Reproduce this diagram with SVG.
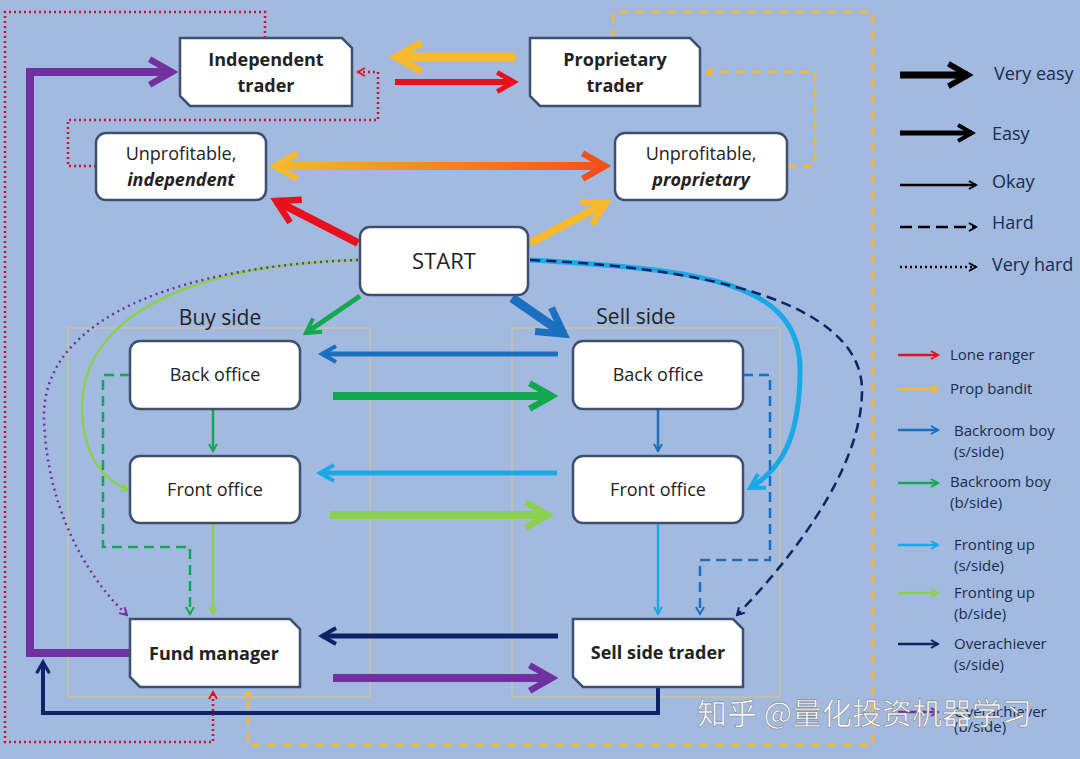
<svg xmlns="http://www.w3.org/2000/svg" width="1080" height="759" viewBox="0 0 1080 759">
<style>
.n{fill:#fff;stroke:#3f4f6f;stroke-width:2.5}
.t{font-family:"Open Sans","Liberation Sans",sans-serif;font-size:18px;fill:#222;text-anchor:middle}
.b{font-weight:bold;font-size:18px}
.l{font-family:"Open Sans","Liberation Sans",sans-serif;font-size:15px;fill:#1a2a50}
.c{fill:none;stroke-linecap:butt}
.grp{fill:none;stroke:#c0bfb0;stroke-width:2}
</style>
<defs>
<linearGradient id="gr" gradientUnits="userSpaceOnUse" x1="270" y1="0" x2="610" y2="0"><stop offset="0" stop-color="#f7b92d"/><stop offset="1" stop-color="#f24f1c"/></linearGradient>
<marker id="mR" viewBox="0 0 10 10" refX="8" refY="5" markerWidth="4" markerHeight="4" orient="auto-start-reverse"><path d="M1,1 L8,5 L1,9" fill="none" stroke="#e8101c" stroke-width="2"/></marker>
<marker id="mY" viewBox="0 0 10 10" refX="8" refY="5" markerWidth="4" markerHeight="4" orient="auto-start-reverse"><path d="M1,1 L8,5 L1,9" fill="none" stroke="#f7b92d" stroke-width="2"/></marker>
<marker id="mO" viewBox="0 0 10 10" refX="8" refY="5" markerWidth="4" markerHeight="4" orient="auto-start-reverse"><path d="M1,1 L8,5 L1,9" fill="none" stroke="#f24f1c" stroke-width="2"/></marker>
<marker id="mB" viewBox="0 0 10 10" refX="8" refY="5" markerWidth="4" markerHeight="4" orient="auto-start-reverse"><path d="M1,1 L8,5 L1,9" fill="none" stroke="#1a6fc0" stroke-width="2"/></marker>
<marker id="mG" viewBox="0 0 10 10" refX="8" refY="5" markerWidth="4" markerHeight="4" orient="auto-start-reverse"><path d="M1,1 L8,5 L1,9" fill="none" stroke="#12a84d" stroke-width="2"/></marker>
<marker id="mLB" viewBox="0 0 10 10" refX="8" refY="5" markerWidth="4" markerHeight="4" orient="auto-start-reverse"><path d="M1,1 L8,5 L1,9" fill="none" stroke="#1aa9e6" stroke-width="2"/></marker>
<marker id="mLG" viewBox="0 0 10 10" refX="8" refY="5" markerWidth="4" markerHeight="4" orient="auto-start-reverse"><path d="M1,1 L8,5 L1,9" fill="none" stroke="#8bd14f" stroke-width="2"/></marker>
<marker id="mN" viewBox="0 0 10 10" refX="8" refY="5" markerWidth="4" markerHeight="4" orient="auto-start-reverse"><path d="M1,1 L8,5 L1,9" fill="none" stroke="#0b2467" stroke-width="2"/></marker>
<marker id="mP" viewBox="0 0 10 10" refX="8" refY="5" markerWidth="4" markerHeight="4" orient="auto-start-reverse"><path d="M1,1 L8,5 L1,9" fill="none" stroke="#7030a0" stroke-width="2"/></marker>
<marker id="mK" viewBox="0 0 10 10" refX="8" refY="5" markerWidth="4" markerHeight="4" orient="auto-start-reverse"><path d="M1,1 L8,5 L1,9" fill="none" stroke="#000" stroke-width="2"/></marker>
</defs>
<rect width="1080" height="759" fill="#a2badf"/>
<rect class="grp" x="68" y="328" width="302" height="369"/>
<rect class="grp" x="512" y="328" width="268" height="369"/>
<text class="t" x="220" y="325" style="font-size:21px">Buy side</text>
<text class="t" x="636" y="324" style="font-size:21px">Sell side</text>
<g id="connectors">
<path class="c" d="M515,57 H396" stroke="#f7b92d" stroke-width="9" marker-end="url(#mY)"/>
<path class="c" d="M395,82 H514" stroke="#e8101c" stroke-width="6" marker-end="url(#mR)"/>
<path class="c" d="M275,166 H605" stroke="url(#gr)" stroke-width="8" marker-start="url(#mY)" marker-end="url(#mO)"/>
<path class="c" d="M358,243 L276,201" stroke="#e8101c" stroke-width="8" marker-end="url(#mR)"/>
<path class="c" d="M530,243 L606,203" stroke="#f7b92d" stroke-width="8" marker-end="url(#mY)"/>
<path class="c" d="M360,296 L306,333" stroke="#12a84d" stroke-width="5" marker-end="url(#mG)"/>
<path class="c" d="M512,298 L564,334" stroke="#1a6fc0" stroke-width="9" marker-end="url(#mB)"/>
<path class="c" d="M530,260 C700,270 800,280 800,370 C800,440 780,470 750,488" stroke="#1aa9e6" stroke-width="5" marker-end="url(#mLB)"/>
<path class="c" d="M530,260 C760,270 862,320 862,390 C862,470 790,560 737,615" stroke="#0b2467" stroke-width="2.5" stroke-dasharray="10,6" marker-end="url(#mN)"/>
<path class="c" d="M358,260 C230,262 80,300 82,410 C84,460 105,480 128,490" stroke="#8bd14f" stroke-width="2.5" marker-end="url(#mLG)"/>
<path class="c" d="M358,260 C200,265 40,310 44,420 C48,520 95,585 127,615" stroke="#7030a0" stroke-width="2.5" stroke-dasharray="2,4" marker-end="url(#mP)"/>
<path class="c" d="M558,354 H322" stroke="#1a6fc0" stroke-width="5" marker-end="url(#mB)"/>
<path class="c" d="M333,396 H552" stroke="#12a84d" stroke-width="8" marker-end="url(#mG)"/>
<path class="c" d="M557,473 H320" stroke="#1aa9e6" stroke-width="5" marker-end="url(#mLB)"/>
<path class="c" d="M330,515 H548" stroke="#8bd14f" stroke-width="8" marker-end="url(#mLG)"/>
<path class="c" d="M558,636 H322" stroke="#0b2467" stroke-width="5" marker-end="url(#mN)"/>
<path class="c" d="M333,678 H552" stroke="#7030a0" stroke-width="8" marker-end="url(#mP)"/>
<path class="c" d="M213,409 V451" stroke="#12a84d" stroke-width="2.5" marker-end="url(#mG)"/>
<path class="c" d="M658,409 V451" stroke="#1a6fc0" stroke-width="2.5" marker-end="url(#mB)"/>
<path class="c" d="M213,523 V614" stroke="#8bd14f" stroke-width="2.5" marker-end="url(#mLG)"/>
<path class="c" d="M658,523 V614" stroke="#1aa9e6" stroke-width="2.5" marker-end="url(#mLB)"/>
<path class="c" d="M130,375 H103 V547 H190 V614" stroke="#12a84d" stroke-width="2.5" stroke-dasharray="10,6" marker-end="url(#mG)"/>
<path class="c" d="M743,375 H770 V560 H700 V614" stroke="#1a6fc0" stroke-width="2.5" stroke-dasharray="10,6" marker-end="url(#mB)"/>
<path class="c" d="M130,653 H30 V72 H172" stroke="#7030a0" stroke-width="8" marker-end="url(#mP)"/>
<path class="c" d="M658,687 V713 H43 V662" stroke="#0b2467" stroke-width="4" marker-end="url(#mN)"/>
<path class="c" d="M265,38 V12 H5 V742 H213 V692" stroke="#d0102c" stroke-width="2.5" stroke-dasharray="2,3" marker-end="url(#mR)"/>
<path class="c" d="M96,166 H68 V120 H378 V72 H358" stroke="#d0102c" stroke-width="2.5" stroke-dasharray="2,3" marker-end="url(#mR)"/>
<path class="c" d="M613,38 V12 H873 V745 H248 V692" stroke="#f7b92d" stroke-width="2.5" stroke-dasharray="9,7" marker-end="url(#mY)"/>
<path class="c" d="M787,166 H815 V72 H706" stroke="#f7b92d" stroke-width="2.5" stroke-dasharray="9,7" marker-end="url(#mY)"/>
</g>
<g id="indep"><path class="n" d="M180,38 H342 L352,48 V106 H190 L180,96 Z"/><text class="t b" x="266" y="66">Independent</text><text class="t b" x="266" y="92">trader</text></g>
<g id="prop"><path class="n" d="M530,38 H690 L700,48 V106 H540 L530,96 Z"/><text class="t b" x="615" y="66">Proprietary</text><text class="t b" x="615" y="92">trader</text></g>
<g id="unind"><rect class="n" x="96" y="133" width="170" height="67" rx="10"/><text class="t" x="181" y="160">Unprofitable,</text><text class="t b" x="181" y="186" font-style="italic">independent</text></g>
<g id="unprop"><rect class="n" x="615" y="133" width="172" height="67" rx="10"/><text class="t" x="701" y="160">Unprofitable,</text><text class="t b" x="701" y="186" font-style="italic">proprietary</text></g>
<g id="start"><rect class="n" x="360" y="227" width="168" height="68" rx="10"/><text class="t" x="444" y="269" style="font-size:22px">START</text></g>
<g id="bback"><rect class="n" x="130" y="341" width="170" height="68" rx="10"/><text class="t" x="215" y="381">Back office</text></g>
<g id="bfront"><rect class="n" x="130" y="456" width="170" height="67" rx="10"/><text class="t" x="215" y="496">Front office</text></g>
<g id="fund"><path class="n" d="M130,619 H290 L300,629 V687 H140 L130,677 Z"/><text class="t b" x="214" y="660">Fund manager</text></g>
<g id="sback"><rect class="n" x="573" y="341" width="170" height="68" rx="10"/><text class="t" x="658" y="381">Back office</text></g>
<g id="sfront"><rect class="n" x="573" y="456" width="170" height="67" rx="10"/><text class="t" x="658" y="496">Front office</text></g>
<g id="sst"><path class="n" d="M573,619 H733 L743,629 V687 H583 L573,677 Z"/><text class="t b" x="658" y="659">Sell side trader</text></g>
<g id="legend">
<path class="c" d="M900,75 H968" stroke="#000" stroke-width="7" marker-end="url(#mK)"/><text class="l" x="994" y="80" style="font-size:18px">Very easy</text>
<path class="c" d="M900,133 H972" stroke="#000" stroke-width="5" marker-end="url(#mK)"/><text class="l" x="992" y="140" style="font-size:18px">Easy</text>
<path class="c" d="M900,185 H976" stroke="#000" stroke-width="2.5" marker-end="url(#mK)"/><text class="l" x="992" y="188" style="font-size:18px">Okay</text>
<path class="c" d="M900,227 H976" stroke="#000" stroke-width="2.5" stroke-dasharray="12,6" marker-end="url(#mK)"/><text class="l" x="992" y="229" style="font-size:18px">Hard</text>
<path class="c" d="M900,267 H976" stroke="#000" stroke-width="2.5" stroke-dasharray="2,3" marker-end="url(#mK)"/><text class="l" x="992" y="271" style="font-size:18px">Very hard</text>
<path class="c" d="M898,355 H938" stroke="#e8101c" stroke-width="2.5" marker-end="url(#mR)"/><text class="l" x="950" y="360">Lone ranger</text>
<path class="c" d="M898,389 H938" stroke="#f7b92d" stroke-width="2.5" marker-end="url(#mY)"/><text class="l" x="950" y="394">Prop bandit</text>
<path class="c" d="M898,430 H938" stroke="#1a6fc0" stroke-width="2.5" marker-end="url(#mB)"/><text class="l" x="954" y="436">Backroom boy</text><text class="l" x="954" y="457">(s/side)</text>
<path class="c" d="M898,483 H938" stroke="#12a84d" stroke-width="2.5" marker-end="url(#mG)"/><text class="l" x="950" y="487">Backroom boy</text><text class="l" x="950" y="508">(b/side)</text>
<path class="c" d="M898,545 H938" stroke="#1aa9e6" stroke-width="2.5" marker-end="url(#mLB)"/><text class="l" x="954" y="550">Fronting up</text><text class="l" x="954" y="571">(s/side)</text>
<path class="c" d="M898,593 H938" stroke="#8bd14f" stroke-width="2.5" marker-end="url(#mLG)"/><text class="l" x="954" y="598">Fronting up</text><text class="l" x="954" y="619">(b/side)</text>
<path class="c" d="M898,644 H938" stroke="#0b2467" stroke-width="2.5" marker-end="url(#mN)"/><text class="l" x="954" y="649">Overachiever</text><text class="l" x="954" y="670">(s/side)</text>
<path class="c" d="M898,712 H938" stroke="#7030a0" stroke-width="2.5" marker-end="url(#mP)"/><text class="l" x="954" y="717">Overachiever</text><text class="l" x="954" y="732">(b/side)</text>
</g>
<text x="697" y="724" font-family="Noto Sans CJK SC,sans-serif" font-size="30" fill="#fff" stroke="#888" stroke-width="0.6">知乎 @量化投资机器学习</text>
</svg>
